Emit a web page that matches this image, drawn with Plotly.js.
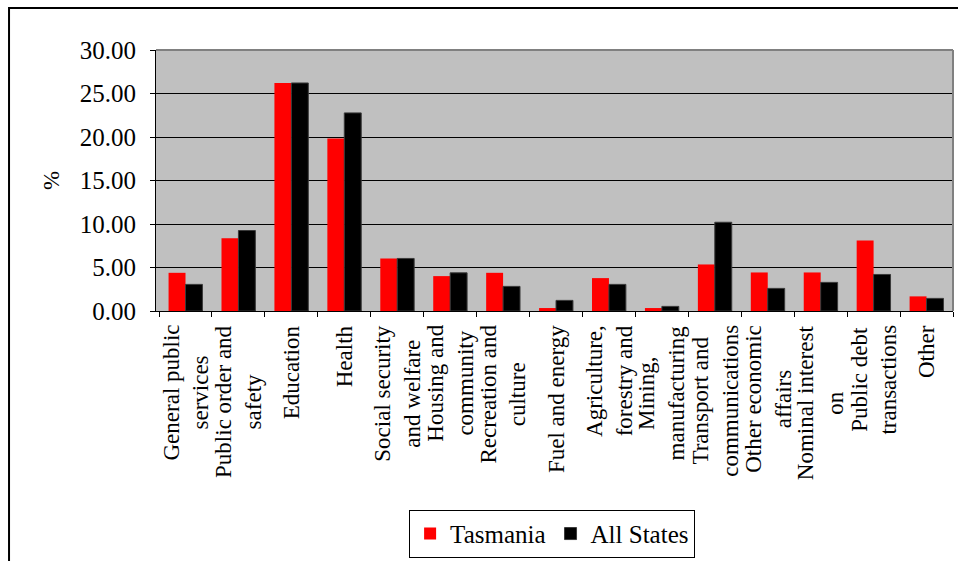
<!DOCTYPE html>
<html>
<head>
<meta charset="utf-8">
<script src="https://cdn.plot.ly/plotly-3.0.1.min.js"></script>
<style>
  html, body { margin: 0; padding: 0; background: #ffffff; }
  #chart { width: 958px; height: 561px; }
</style>
</head>
<body>
<div id="chart"></div>
<script>
// Expense categories (two-line labels use <br>)
const categories = [
  "General public<br>services",
  "Public order and<br>safety",
  "Education",
  "Health",
  "Social security<br>and welfare",
  "Housing and<br>community",
  "Recreation and<br>culture",
  "Fuel and energy",
  "Agriculture,<br>forestry and",
  "Mining,<br>manufacturing",
  "Transport and<br>communications",
  "Other economic<br>affairs",
  "Nominal interest<br>on",
  "Public debt<br>transactions",
  "Other"
];

// Share of total expenses, per cent
const tasmania  = [4.39, 8.37, 26.21, 19.83, 6.04, 4.01, 4.39, 0.34, 3.78, 0.34, 5.35, 4.43, 4.43, 8.10, 1.68];
const allStates = [3.06, 9.25, 26.21, 22.77, 6.04, 4.39, 2.83, 1.22, 3.06, 0.53, 10.20, 2.60, 3.29, 4.20, 1.45];

const yTicks = [0, 5, 10, 15, 20, 25, 30];

const serif = '"Liberation Serif", "Times New Roman", serif';

const traces = [
  {
    type: "bar",
    name: "Tasmania",
    x: categories,
    y: tasmania,
    marker: { color: "#ff0000", line: { width: 0 } }
  },
  {
    type: "bar",
    name: "All States",
    x: categories,
    y: allStates,
    marker: { color: "#000000", line: { color: "#3a3a3a", width: 1 } }
  }
];

// Rotated category labels, lines centred on each other, hung under the axis
const categoryLabels = categories.map(c => ({
  x: c, xref: "x",
  y: 0, yref: "paper",
  xanchor: "center", yanchor: "top",
  yshift: -12,
  textangle: -90,
  align: "center",
  showarrow: false,
  text: c,
  font: { family: serif, size: 23, color: "#000000" }
}));

const layout = {
  width: 958,
  height: 561,
  margin: { l: 156, r: 5, t: 50, b: 249, pad: 0 },
  paper_bgcolor: "#ffffff",
  plot_bgcolor: "#c0c0c0",
  font: { family: serif, color: "#000000", size: 22 },
  barmode: "group",
  bargap: 0.36,
  bargroupgap: 0,
  showlegend: true,
  legend: {
    orientation: "h",
    x: 0.497,
    xanchor: "center",
    y: -0.755,
    yanchor: "top",
    bgcolor: "#ffffff",
    bordercolor: "#000000",
    borderwidth: 1,
    font: { family: serif, size: 25, color: "#000000" },
    itemwidth: 30,
    traceorder: "normal"
  },
  xaxis: {
    type: "category",
    showticklabels: false,
    ticks: "outside",
    tickson: "boundaries",
    ticklen: 5,
    tickcolor: "#000000",
    showline: true,
    linecolor: "#000000",
    linewidth: 1,
    showgrid: false,
    automargin: false,
    fixedrange: true
  },
  yaxis: {
    range: [0, 30],
    tickvals: yTicks,
    tickformat: ".2f",
    tickfont: { family: serif, size: 25, color: "#000000" },
    ticks: "outside",
    ticklen: 5,
    tickcolor: "#000000",
    ticklabelstandoff: 9,
    showline: true,
    linecolor: "#000000",
    linewidth: 1,
    showgrid: true,
    gridcolor: "#000000",
    gridwidth: 1,
    zeroline: false,
    automargin: false,
    fixedrange: true,
    title: {
      text: "%",
      font: { family: serif, size: 23, color: "#000000" },
      standoff: 13
    }
  },
  annotations: categoryLabels,
  shapes: [
    // plot area frame (top and right edges)
    { type: "line", xref: "paper", yref: "paper", x0: 0, x1: 1, y0: 1, y1: 1,
      line: { color: "#808080", width: 2 } },
    { type: "line", xref: "paper", yref: "paper", x0: 1, x1: 1, y0: 0, y1: 1,
      line: { color: "#808080", width: 2 } },
    // outer chart border
    { type: "rect", xref: "paper", yref: "paper",
      x0: -0.1844, x1: 1.02, y0: -1.0, y1: 1.1605,
      line: { color: "#000000", width: 2 }, fillcolor: "rgba(0,0,0,0)" }
  ]
};

Plotly.newPlot("chart", traces, layout, { displayModeBar: false, staticPlot: true });
</script>
</body>
</html>
